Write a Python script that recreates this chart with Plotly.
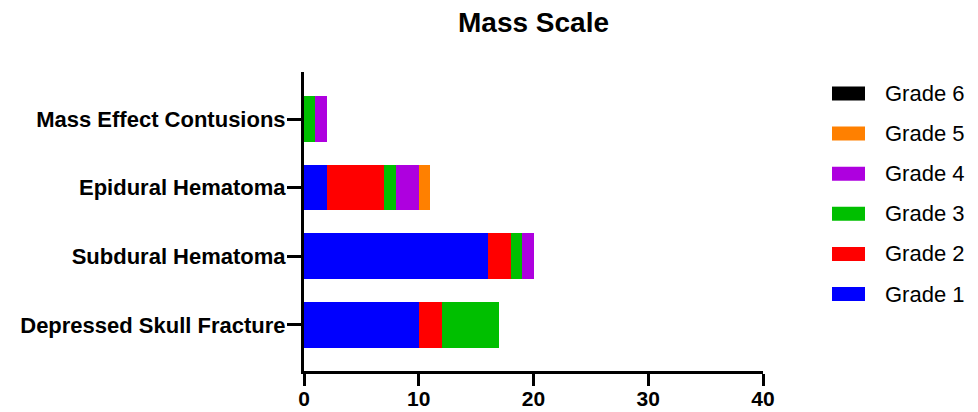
import plotly.graph_objects as go

categories = ["Depressed Skull Fracture", "Subdural Hematoma", "Epidural Hematoma", "Mass Effect Contusions"]
grade_names = ["Grade 1", "Grade 2", "Grade 3", "Grade 4", "Grade 5", "Grade 6"]
grade1 = [10, 16, 2, 0]
grade2 = [2, 2, 5, 0]
grade3 = [5, 1, 1, 1]
grade4 = [0, 1, 2, 1]
grade5 = [0, 0, 1, 0]
grade6 = [0, 0, 0, 0]
grade_values = [grade1, grade2, grade3, grade4, grade5, grade6]
grade_colors = ["#0000FF", "#FF0000", "#00BF00", "#AE00DF", "#FF8000", "#000000"]
x_ticks = [0, 10, 20, 30, 40]

FONT = "Arial, Liberation Sans, sans-serif"

fig = go.Figure()
for name, vals, col in zip(grade_names, grade_values, grade_colors):
    fig.add_trace(go.Bar(
        y=categories, x=vals, name=name, orientation="h",
        marker=dict(color=col, line=dict(width=0)),
        width=0.666, showlegend=False,
    ))

# plot area geometry (pixels)
L, R, T, B = 304, 763, 72, 371
W, H = R - L, B - T

def px_x(p):
    return (p - L) / W

def px_y(p):
    return (B - p) / H

shapes = []
annotations = []
for i, (name, col) in enumerate(zip(reversed(grade_names), reversed(grade_colors))):
    cy = 93.5 + 40.1 * i
    shapes.append(dict(type="rect", xref="paper", yref="paper",
                       x0=px_x(832), x1=px_x(865), y0=px_y(cy + 7), y1=px_y(cy - 7),
                       fillcolor=col, line=dict(width=0)))
    annotations.append(dict(xref="paper", yref="paper", x=px_x(883), y=px_y(cy),
                            xanchor="left", yanchor="middle", showarrow=False,
                            text=name, font=dict(family=FONT, size=22, color="black")))

fig.update_layout(
    barmode="stack",
    width=978, height=412,
    margin=dict(l=L, r=978 - R, t=T, b=412 - B, pad=0, autoexpand=False),
    paper_bgcolor="white", plot_bgcolor="white",
    title=dict(text="<b>Mass Scale</b>", x=0.5, xref="paper", xanchor="center",
               y=1 - 22 / 412, yref="container", yanchor="middle",
               font=dict(family=FONT, size=28, color="black")),
    shapes=shapes, annotations=annotations,
    showlegend=False,
)
fig.update_xaxes(range=[0, 40], tickvals=x_ticks, ticktext=[f"<b>{t}</b>" for t in x_ticks],
                 showline=True, linewidth=3, linecolor="black",
                 ticks="outside", ticklen=12, tickwidth=3, tickcolor="black",
                 showgrid=False, zeroline=False, automargin=False,
                 ticklabelstandoff=-5,
                 tickfont=dict(family=FONT, size=21, color="black"))
fig.update_yaxes(range=[-0.673, 3.685], tickvals=categories,
                 ticktext=[f"<b>{c}</b>" for c in categories],
                 showline=True, linewidth=3, linecolor="black",
                 ticks="outside", ticklen=14, tickwidth=3, tickcolor="black",
                 showgrid=False, zeroline=False, automargin=False,
                 ticklabelstandoff=-3,
                 tickfont=dict(family=FONT, size=22, color="black"))

fig.write_html("out.html", config={"displayModeBar": False},
               post_script="document.body.style.margin='0';")
